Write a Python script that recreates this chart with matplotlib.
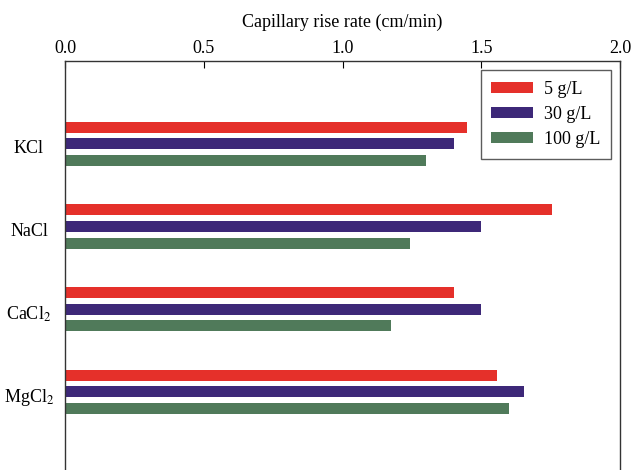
import matplotlib.pyplot as plt
import matplotlib.transforms as mtransforms
import numpy as np

# Datos
salts = ["KCl", "NaCl", "CaCl$_2$", "MgCl$_2$"]
series = ["5 g/L", "30 g/L", "100 g/L"]
rate_5 = [1.45, 1.755, 1.40, 1.555]
rate_30 = [1.40, 1.50, 1.50, 1.655]
rate_100 = [1.30, 1.245, 1.175, 1.60]
colors = ["#E5302A", "#3D2878", "#507A5A"]

plt.rcParams['font.family'] = ['Liberation Serif', 'DejaVu Serif']
plt.rcParams['mathtext.fontset'] = 'stix'

fig = plt.figure(figsize=(6.31, 4.70), dpi=100)
# ejes: izquierda 65 px, derecha 620 px, arriba 61 px, hasta el borde inferior
ax = fig.add_axes([65 / 631, -0.01, (620 - 65) / 631, 1 - 61 / 470 + 0.01])

y = np.arange(len(salts))
offset = 0.2
height = 0.133
for k, vals in enumerate([rate_5, rate_30, rate_100]):
    ax.barh(y + (k - 1) * offset, vals, height=height, color=colors[k], label=series[k])

ax.set_xlim(0, 2.0)
ax.set_ylim(3.0 + 0.94 + 0.06, -1.0)
ax.set_yticks(y)
ax.set_yticklabels(salts, fontsize=13, ha='center')
# etiquetas centradas en x ~ 29 px, un poco más abajo
ax.tick_params(axis='y', length=0, pad=(65 - 29) * 0.72)
shift = mtransforms.ScaledTranslation(0, -2 / 72, fig.dpi_scale_trans)
for lbl in ax.get_yticklabels():
    lbl.set_transform(lbl.get_transform() + shift)

ax.xaxis.tick_top()
ax.xaxis.set_label_position('top')
ax.set_xticks([0.0, 0.5, 1.0, 1.5, 2.0])
ax.set_xticklabels(["0.0", "0.5", "1.0", "1.5", "2.0"], fontsize=13)
ax.tick_params(axis='x', direction='in', length=5, pad=3)
ax.set_xlabel("Capillary rise rate (cm/min)", fontsize=13, labelpad=9)

for s in ax.spines.values():
    s.set_color('#333333')
    s.set_linewidth(1.0)

leg = ax.legend(loc='upper right', fontsize=13, frameon=True, fancybox=False,
                handlelength=2.3, handleheight=0.6, borderpad=0.6,
                labelspacing=0.45, handletextpad=0.6, borderaxespad=0.5)
leg.get_frame().set_edgecolor('#333333')
leg.get_frame().set_linewidth(1.0)

fig.savefig("out.png", dpi=100)
